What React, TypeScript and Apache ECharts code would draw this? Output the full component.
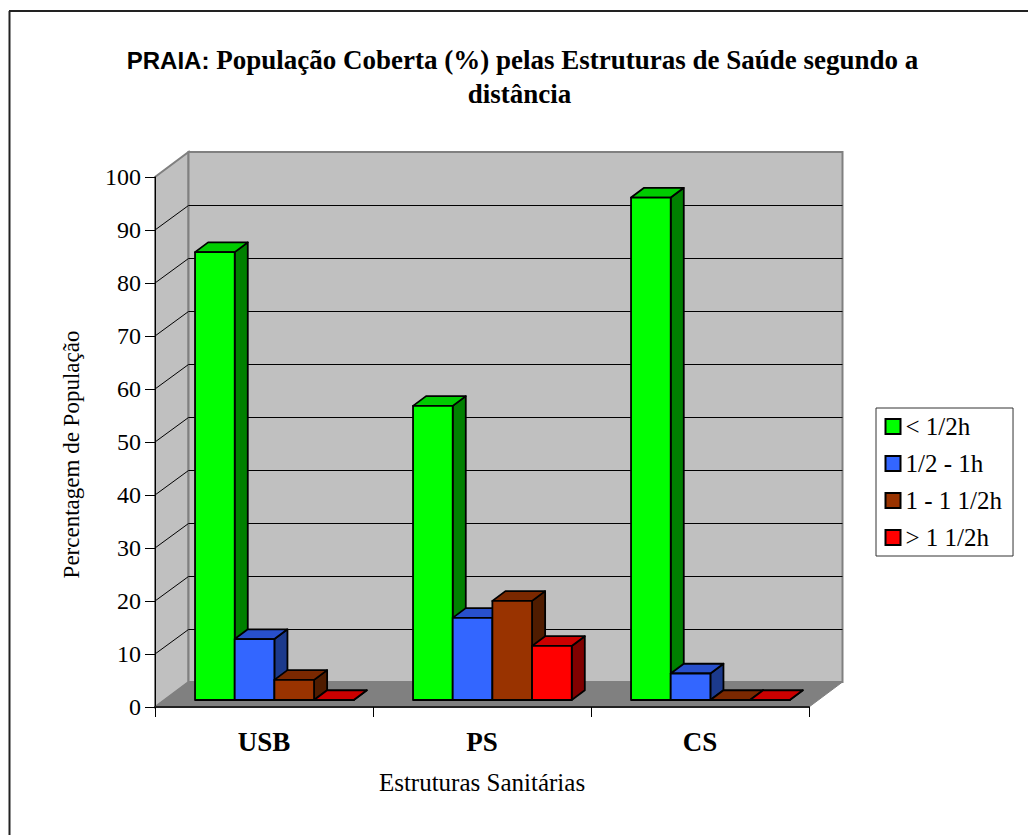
import React, { useEffect, useRef } from "react";
import * as echarts from "echarts";

const categories = ["USB", "PS", "CS"];
const seriesNames = ["< 1/2h", "1/2 - 1h", "1 - 1 1/2h", "> 1 1/2h"];
const lessThanHalf = [84.5, 55.5, 94.8];
const halfToOne = [11.5, 15.5, 5];
const oneToOneHalf = [3.8, 18.7, 0];
const moreThanOneHalf = [0, 10.2, 0];
const yTicks = [10, 20, 30, 40, 50, 60, 70, 80, 90];
const frontColors = ["#00FF00", "#3366FF", "#993300", "#FF0000"];
const topColors = ["#00CC00", "#2850CC", "#7A2800", "#CC0000"];
const sideColors = ["#008000", "#1C3A8C", "#4F1C00", "#800000"];

const FONT = '"Liberation Serif", "Times New Roman", serif';
const DX = 33.5;
const DY = -25;

function App() {
  const ref = useRef<HTMLDivElement>(null);
  useEffect(() => {
    const chart = echarts.init(ref.current!, undefined, { renderer: "svg" });

    const wallsItem = (_p: any, api: any) => {
      const band = api.size([1, 0])[0];
      const [c0, y0] = api.coord([0, 0]);
      const [c2] = api.coord([2, 0]);
      const x0 = c0 - band / 2;
      const x1 = c2 + band / 2;
      const [, yTop] = api.coord([0, 100]);
      const children: any[] = [
        { type: "polygon", shape: { points: [[x0, y0], [x0 + DX, y0 + DY], [x0 + DX, yTop + DY], [x0, yTop]] }, style: { fill: "#C0C0C0", stroke: "#808080", lineWidth: 2 } },
        { type: "polygon", shape: { points: [[x0, y0], [x0 + DX, y0 + DY], [x1 + DX, y0 + DY], [x1, y0]] }, style: { fill: "#808080", stroke: "#808080", lineWidth: 1 } },
        { type: "rect", shape: { x: x0 + DX, y: yTop + DY, width: x1 - x0, height: y0 - yTop }, style: { fill: "#C0C0C0", stroke: "#808080", lineWidth: 2 } },
      ];
      for (const t of yTicks) {
        const y = api.coord([0, t])[1];
        children.push({
          type: "polyline",
          shape: { points: [[x0, y], [x0 + DX, y + DY + 0.5], [x1 + DX, y + DY + 0.5]] },
          style: { fill: "none", stroke: "#000", lineWidth: 1 },
        });
      }
      return { type: "group", children };
    };

    const barItem = (s: number) => (_p: any, api: any) => {
      const cat = api.value(0);
      const val = api.value(1);
      const band = api.size([1, 0])[0];
      const w = band * 0.182;
      const f0 = 0.28;
      const f1 = 0.39;
      const cx = api.coord([cat, 0])[0] + DX * 0.31;
      const l = cx - 2 * w + s * w;
      const r = l + w;
      const yb = api.coord([cat, 0])[1] + DY * f0;
      const yt = api.coord([cat, val])[1] + DY * f0;
      const ox = DX * f1;
      const oy = DY * f1;
      const st = (fill: string) => ({ fill, stroke: "#000", lineWidth: 1.8, lineJoin: "round" });
      return {
        type: "group",
        children: [
          { type: "polygon", shape: { points: [[r, yb], [r + ox, yb + oy], [r + ox, yt + oy], [r, yt]] }, style: st(sideColors[s]) },
          { type: "polygon", shape: { points: [[l, yt], [l + ox, yt + oy], [r + ox, yt + oy], [r, yt]] }, style: st(topColors[s]) },
          { type: "rect", shape: { x: l, y: yt, width: w, height: yb - yt }, style: st(frontColors[s]) },
        ],
      };
    };

    const values = [lessThanHalf, halfToOne, oneToOneHalf, moreThanOneHalf];
    const titleRich = {
      a: { fontFamily: '"Liberation Sans", Arial, sans-serif', fontWeight: "bold", fontSize: 24, color: "#000", lineHeight: 34 },
      b: { fontFamily: FONT, fontWeight: "bold", fontSize: 27, color: "#000", lineHeight: 34 },
    };

    chart.setOption({
      animation: false,
      backgroundColor: "#fff",
      title: [
        {
          text: "{a|PRAIA:}{b| População Coberta (%) pelas Estruturas de Saúde segundo a}",
          left: 517.5,
          top: 38,
          textAlign: "center",
          textStyle: { rich: titleRich },
        },
        {
          text: "{b|distância}",
          left: 514.5,
          top: 72,
          textAlign: "center",
          textStyle: { rich: titleRich },
        },
      ],
      graphic: [
        { type: "line", z: -1, shape: { x1: 9.5, y1: 11, x2: 9.5, y2: 835 }, style: { stroke: "#222", lineWidth: 2 } },
        { type: "line", z: -1, shape: { x1: 9, y1: 11, x2: 1028, y2: 11 }, style: { stroke: "#222", lineWidth: 2 } },
      ],
      legend: {
        left: 876,
        top: 408,
        orient: "vertical",
        backgroundColor: "#fff",
        borderColor: "#333",
        borderWidth: 1,
        padding: [6, 11, 6, 8.5],
        itemWidth: 15,
        itemHeight: 15,
        itemGap: 12,
        icon: "rect",
        selectedMode: false,
        textStyle: { fontFamily: FONT, fontSize: 25, color: "#000" },
        data: seriesNames,
      },
      grid: { left: 155, right: 219, top: 177, bottom: 128, containLabel: false },
      xAxis: {
        type: "category",
        data: categories,
        z: 10,
        name: "Estruturas Sanitárias",
        nameLocation: "middle",
        nameGap: 63,
        nameTextStyle: { fontFamily: FONT, fontSize: 25, color: "#000" },
        axisLine: { lineStyle: { color: "#222", width: 2 } },
        axisTick: { show: true, length: 10, alignWithLabel: false, lineStyle: { color: "#000", width: 1 } },
        axisLabel: { fontFamily: FONT, fontWeight: "bold", fontSize: 27, color: "#000", margin: 21 },
        splitLine: { show: false },
      },
      yAxis: {
        type: "value",
        min: 0,
        max: 100,
        interval: 10,
        z: 10,
        name: "Percentagem de População",
        nameLocation: "middle",
        nameGap: 72,
        nameTextStyle: { fontFamily: FONT, fontSize: 23, color: "#000", padding: [0, 25, 0, 0] },
        axisLine: { show: true, lineStyle: { color: "#000", width: 1 } },
        axisTick: { show: true, length: 10, lineStyle: { color: "#000", width: 1 } },
        axisLabel: { fontFamily: FONT, fontSize: 24, color: "#000", margin: 14 },
        splitLine: { show: false },
      },
      series: [
        {
          type: "custom",
          name: "walls",
          silent: true,
          z: 1,
          coordinateSystem: "cartesian2d",
          renderItem: wallsItem,
          data: [[0, 0]],
          encode: { x: 0, y: 1 },
        },
        ...seriesNames.map((name, s) => ({
          type: "custom",
          name,
          z: 2 + s,
          coordinateSystem: "cartesian2d",
          renderItem: barItem(s),
          itemStyle: { color: frontColors[s], borderColor: "#000", borderWidth: 1.5 },
          data: categories.map((_, i) => [i, values[s][i]]),
          encode: { x: 0, y: 1 },
        })),
      ],
    });
    return () => chart.dispose();
  }, []);
  return <div ref={ref} style={{ position: "absolute", left: 0, top: 0, width: 1028, height: 835 }} />;
}

export default App;
